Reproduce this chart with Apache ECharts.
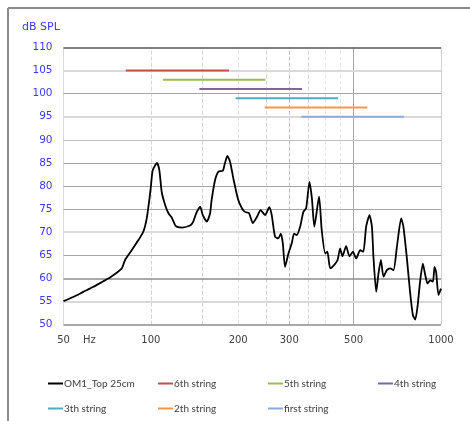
<!DOCTYPE html>
<html><head><meta charset="utf-8">
<script src="https://cdn.jsdelivr.net/npm/echarts@6/dist/echarts.min.js"></script>
<style>html,body{margin:0;padding:0;background:#fff}#c{width:470px;height:421px}</style>
</head><body><div id="c"></div>
<script>
// Frequency response (Hz, dB SPL)
const freqHz = [50,54,58.5,63.4,68.6,72.3,79.4,81.5,85.9,90.6,94.2,96.8,98.8,100,101.5,105,107,109,112,115,118,122,128,137,140,144,148,151,156,160,162,166.5,171,177,180,183.5,187.6,192.5,200,206,211,218,224.5,232,239,247.6,256,261,268,275,280.5,285,290,298,306,311.6,318,327,335.5,343,352,359,366,380,388,399,406,415,428,440,449,457.5,471,483.6,497,510,526.5,540,552,567,578,585,598,609,620.6,633.6,651,668,686,704.6,729,742,763,783,800,815,830,848,866,882.6,898.6,918,938,950,962,980,1000];
const splDb = [55.1,56.0,57.1,58.2,59.4,60.2,62.2,64.0,66.1,68.3,70.1,73.0,77.0,79.8,83.4,85.0,83.4,78.7,75.9,74.1,73.2,71.3,71.0,71.5,72.3,74.4,75.5,73.7,72.3,74.1,77.0,81.3,83.1,83.3,84.9,86.5,85.2,81.6,77.0,75.2,74.4,74.1,72.0,73.3,74.8,73.7,75.4,73.7,69.0,68.7,69.7,67.6,62.5,65.4,67.6,69.7,69.4,71.2,74.4,75.2,80.9,77.3,71.2,77.7,70.5,65.4,65.8,62.2,62.9,64.0,66.5,64.8,67.0,64.8,65.8,64.3,66.1,65.8,71.2,73.7,71.2,64.7,57.1,61.1,64.0,60.4,61.8,62.2,61.8,66.8,73.0,71.2,64.3,56.8,52.1,51.1,53.9,59.6,63.2,60.7,58.9,59.6,59.3,62.5,61.4,56.4,57.8];

// String ranges
const stringNames = ['6th string','5th string','4th string','3th string','2th string','first string'];
const stringStart = [82,110,147,196,247,330];
const stringEnd   = [186,248,332,442,557,745];
const stringLevel = [105,103,101,99,97,95];
const stringColors = ['#c0504d','#9bbb59','#8064a2','#4bacc6','#f79646','#8eaadb'];

const seriesName = 'OM1_Top 25cm';
const xTickLabels = [50,100,200,300,500,1000];
const yTicks = [50,55,60,65,70,75,80,85,90,95,100,105,110];
const yGridColors = ['#8c8c8c','#dadada','#8c8c8c','#a6a6a6','#dadada','#a6a6a6','#a6a6a6','#a6a6a6','#bfbfbf','#dadada','#a6a6a6','#dadada','#595959'];
const yGridWidths = [1.5,2,1.5,1,2,1,1,1,1,2,1,2,1.5];
const xGrid = [
  {v:100,c:'#d4d4d4',t:'dashed'},{v:150,c:'#d4d4d4',t:'dashed'},{v:200,c:'#e0e0e0',t:'dashed'},
  {v:250,c:'#d4d4d4',t:'dashed'},{v:300,c:'#bcbcbc',t:'dashed'},{v:350,c:'#d4d4d4',t:'dashed'},
  {v:400,c:'#e6e6e6',t:'dashed'},{v:450,c:'#e6e6e6',t:'dashed'},{v:500,c:'#a6a6a6',t:'solid'},
  {v:1000,c:'#d0d0d0',t:'solid'},{v:50,c:'#dadada',t:'solid'}
];

const chart = echarts.init(document.getElementById('c'), null, {renderer:'canvas'});
const font = 'DejaVu Sans';
const markData = [];
xGrid.forEach(g => markData.push({xAxis:g.v, lineStyle:{color:g.c,type:g.t,width:1}, label:{show:false}}));
yTicks.forEach((y,i) => markData.push({yAxis:y, lineStyle:{color:yGridColors[i],type:'solid',width:yGridWidths[i]}, label:{show:false}}));
xTickLabels.forEach(v => markData.push({xAxis:v, lineStyle:{color:'rgba(0,0,0,0)',width:0},
  label:{show:true, position:'start', formatter:String(v), distance:[0,11], color:'#404040', fontSize:10, fontFamily:font}}));

const series = [{
  name:'grid', type:'line', data:[], silent:true, z:1,
  markLine:{silent:true, symbol:'none', animation:false, z:1, data:markData}
}];
stringNames.forEach((n,i) => series.push({
  name:n, type:'line', symbol:'none', z:6,
  data:[[stringStart[i],stringLevel[i]],[stringEnd[i],stringLevel[i]]],
  lineStyle:{color:stringColors[i], width:2}, itemStyle:{color:stringColors[i]}
}));
series.splice(1,0,{
  name:seriesName, type:'line', symbol:'none', smooth:0.2, z:7,
  data:freqHz.map((f,i)=>[f,splDb[i]]),
  lineStyle:{color:'#000', width:1.8}, itemStyle:{color:'#000'}
});

chart.setOption({
  animation:false,
  backgroundColor:'#fff',
  grid:{left:63.5, right:29, top:47.3, bottom:96.3, containLabel:false},
  xAxis:{type:'log', logBase:10, min:50, max:1000,
    axisLine:{show:false}, axisTick:{show:false}, axisLabel:{show:false}, splitLine:{show:false}, minorSplitLine:{show:false}},
  yAxis:{type:'value', min:50, max:110, interval:5,
    axisLine:{show:false}, axisTick:{show:false}, splitLine:{show:false},
    axisLabel:{color:'#3c3cf0', fontSize:10.5, fontFamily:font, margin:11}},
  legend:{
    data:[seriesName].concat(stringNames),
    left:48, top:376, width:440, padding:0, itemWidth:15, itemHeight:10, itemGap:10,
    icon:'path://M0,4 L15,4 L15,6 L0,6 Z',
    textStyle:{fontFamily:'Lato', fontSize:10, color:'#404040', width:84, lineHeight:15, padding:[0,0,0,-4]}
  },
  graphic:[
    {type:'text', left:22, top:22, style:{text:'dB SPL', fill:'#3c3cf0', font:'11px "DejaVu Sans"'}},
    {type:'text', left:83, top:335, style:{text:'Hz', fill:'#404040', font:'10px "DejaVu Sans"'}},
    {type:'line', shape:{x1:8, y1:8, x2:470, y2:8}, style:{stroke:'#8c8c8c', lineWidth:2}},
    {type:'line', shape:{x1:8, y1:8, x2:8, y2:421}, style:{stroke:'#8c8c8c', lineWidth:2}}
  ],
  series:series
});
</script></body></html>
